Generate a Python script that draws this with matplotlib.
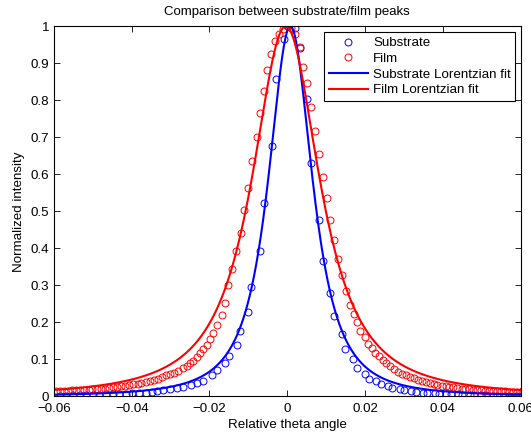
import numpy as np
import matplotlib.pyplot as plt

sub_x = [-0.0585, -0.0568, -0.0551, -0.0534, -0.0517, -0.0500, -0.0483, -0.0466,
         -0.0449, -0.0432, -0.0415, -0.0398, -0.0381, -0.0364, -0.0347, -0.0336,
         -0.0319, -0.0302, -0.0284, -0.0267, -0.0248, -0.0233, -0.0216, -0.0194,
         -0.0180, -0.0160, -0.0149, -0.0130, -0.0122, -0.0100, -0.0092, -0.0070,
         -0.0061, -0.0040, -0.0029, -0.0009, 0.0001, 0.0021, 0.0032, 0.0052,
         0.0060, 0.0082, 0.0092, 0.0111, 0.0120, 0.0141, 0.0149, 0.0169,
         0.0180, 0.0200, 0.0210, 0.0229, 0.0240, 0.0259, 0.0270, 0.0289,
         0.0300, 0.0319, 0.0330, 0.0349, 0.0360, 0.0379, 0.0390, 0.0409,
         0.0420, 0.0439, 0.0450, 0.0469, 0.0480, 0.0499, 0.0510, 0.0529,
         0.0540, 0.0559, 0.0570, 0.0589, 0.0600]
sub_y = [0.002, 0.002, 0.003, 0.003, 0.003, 0.004, 0.004, 0.005,
         0.005, 0.006, 0.007, 0.008, 0.009, 0.010, 0.012, 0.013,
         0.016, 0.019, 0.022, 0.026, 0.031, 0.035, 0.042, 0.058,
         0.071, 0.089, 0.109, 0.139, 0.176, 0.227, 0.296, 0.394,
         0.522, 0.677, 0.857, 0.966, 1.000, 0.996, 0.941, 0.803,
         0.630, 0.476, 0.366, 0.280, 0.216, 0.167, 0.128, 0.100,
         0.076, 0.061, 0.048, 0.040, 0.033, 0.027, 0.022, 0.019,
         0.016, 0.013, 0.012, 0.010, 0.009, 0.008, 0.007, 0.006,
         0.005, 0.005, 0.004, 0.004, 0.003, 0.003, 0.003, 0.002,
         0.002, 0.002, 0.002, 0.001, 0.001]

film_x = [-0.0595, -0.0585, -0.0574, -0.0564, -0.0553, -0.0543, -0.0532, -0.0522,
          -0.0511, -0.0501, -0.0490, -0.0480, -0.0469, -0.0459, -0.0448, -0.0438,
          -0.0427, -0.0417, -0.0406, -0.0396, -0.0385, -0.0375, -0.0364, -0.0354,
          -0.0343, -0.0333, -0.0323, -0.0312, -0.0302, -0.0291, -0.0280, -0.0269,
          -0.0259, -0.0250, -0.0242, -0.0233, -0.0224, -0.0216, -0.0207, -0.0199,
          -0.0190, -0.0180, -0.0169, -0.0160, -0.0152, -0.0143, -0.0131, -0.0120,
          -0.0111, -0.0100, -0.0091, -0.0079, -0.0070, -0.0061, -0.0051, -0.0042,
          -0.0032, -0.0022, -0.0012, -0.0001, 0.0009, 0.0020, 0.0033, 0.0041,
          0.0050, 0.0061, 0.0071, 0.0082, 0.0091, 0.0101, 0.0110, 0.0121,
          0.0131, 0.0141, 0.0152, 0.0160, 0.0171, 0.0180, 0.0188, 0.0199,
          0.0208, 0.0217, 0.0226, 0.0236, 0.0245, 0.0255, 0.0265, 0.0275,
          0.0285, 0.0295, 0.0305, 0.0315, 0.0325, 0.0336, 0.0346, 0.0356,
          0.0366, 0.0376, 0.0386, 0.0397, 0.0407, 0.0417, 0.0427, 0.0437,
          0.0448, 0.0458, 0.0468, 0.0478, 0.0488, 0.0499, 0.0509, 0.0519,
          0.0529, 0.0540, 0.0550, 0.0560, 0.0570, 0.0580, 0.0591, 0.0603]
film_y = [0.013, 0.014, 0.015, 0.015, 0.016, 0.016, 0.017, 0.018,
          0.018, 0.019, 0.020, 0.020, 0.021, 0.022, 0.024, 0.025,
          0.027, 0.028, 0.030, 0.032, 0.034, 0.036, 0.038, 0.040,
          0.044, 0.048, 0.053, 0.057, 0.060, 0.064, 0.069, 0.076,
          0.082, 0.089, 0.096, 0.105, 0.116, 0.127, 0.139, 0.154,
          0.170, 0.193, 0.220, 0.251, 0.300, 0.345, 0.392, 0.440,
          0.503, 0.562, 0.637, 0.701, 0.766, 0.824, 0.881, 0.925,
          0.960, 0.980, 0.994, 1.000, 0.996, 0.978, 0.943, 0.891,
          0.846, 0.781, 0.718, 0.655, 0.594, 0.535, 0.477, 0.422,
          0.372, 0.328, 0.284, 0.246, 0.223, 0.200, 0.177, 0.160,
          0.140, 0.130, 0.117, 0.108, 0.099, 0.090, 0.081, 0.073,
          0.066, 0.061, 0.057, 0.053, 0.049, 0.045, 0.041, 0.038,
          0.035, 0.033, 0.031, 0.029, 0.027, 0.025, 0.024, 0.022,
          0.021, 0.020, 0.019, 0.018, 0.017, 0.016, 0.015, 0.015,
          0.014, 0.014, 0.013, 0.013, 0.012, 0.012, 0.011, 0.013]

# fitted peak parameters as drawn: amplitude, centre, width, exponent
sub_fit = (1.0, 0.0008, 0.0082, 1.35)
film_fit = (1.0, -0.0004, 0.0120, 1.25)

xticks = [-0.06, -0.04, -0.02, 0, 0.02, 0.04, 0.06]
xticklabels = ['\u22120.06', '\u22120.04', '\u22120.02', '0', '0.02', '0.04', '0.06']
yticks = [0, 0.1, 0.2, 0.3, 0.4, 0.5, 0.6, 0.7, 0.8, 0.9, 1]
yticklabels = ['0', '0.1', '0.2', '0.3', '0.4', '0.5', '0.6', '0.7', '0.8', '0.9', '1']


def peak(x, amp, x0, w, m):
    return amp * (1.0 + ((x - x0) / w) ** 2) ** (-m)


plt.rcParams['font.family'] = ['Liberation Sans', 'DejaVu Sans']
plt.rcParams['font.size'] = 9.6

fig = plt.figure(figsize=(5.31, 4.36), dpi=100)
ax = fig.add_axes([0.1015, 0.0911, 0.879, 0.8486])

ax.plot(sub_x, sub_y, 'o', mfc='none', mec='b', ms=5, mew=0.7, label='Substrate')
ax.plot(film_x, film_y, 'o', mfc='none', mec='r', ms=5, mew=0.7, label='Film')

xx = np.linspace(-0.06, 0.06, 2001)
ax.plot(xx, peak(xx, *sub_fit), 'b-', lw=1.5, label='Substrate Lorentzian fit')
ax.plot(xx, peak(xx, *film_fit), 'r-', lw=1.5, label='Film Lorentzian fit')

ax.set_xlim(-0.06, 0.06)
ax.set_ylim(0, 1)
ax.set_xticks(xticks)
ax.set_xticklabels(xticklabels)
ax.set_yticks(yticks)
ax.set_yticklabels(yticklabels)
ax.tick_params(direction='in', top=True, right=True, length=4, width=0.6, labelsize=9.6)
ax.tick_params(axis='x', pad=4.5)
ax.tick_params(axis='y', pad=3.5)
for s in ax.spines.values():
    s.set_linewidth(0.8)

ax.set_title('Comparison between substrate/film peaks', fontsize=9.5, pad=8)
ax.set_xlabel('Relative theta angle', fontsize=9.6, labelpad=3.5)
ax.set_ylabel('Normalized intensity', fontsize=9.6, labelpad=4)

leg = ax.legend(loc='upper right', bbox_to_anchor=(0.9887, 0.9838), fontsize=9.6,
                numpoints=1, handlelength=2.9, fancybox=False, framealpha=1,
                borderpad=0.35, labelspacing=0.25, handletextpad=0.4, borderaxespad=0)
leg.get_frame().set_edgecolor('k')
leg.get_frame().set_linewidth(0.8)

fig.savefig('out.png', dpi=100)
